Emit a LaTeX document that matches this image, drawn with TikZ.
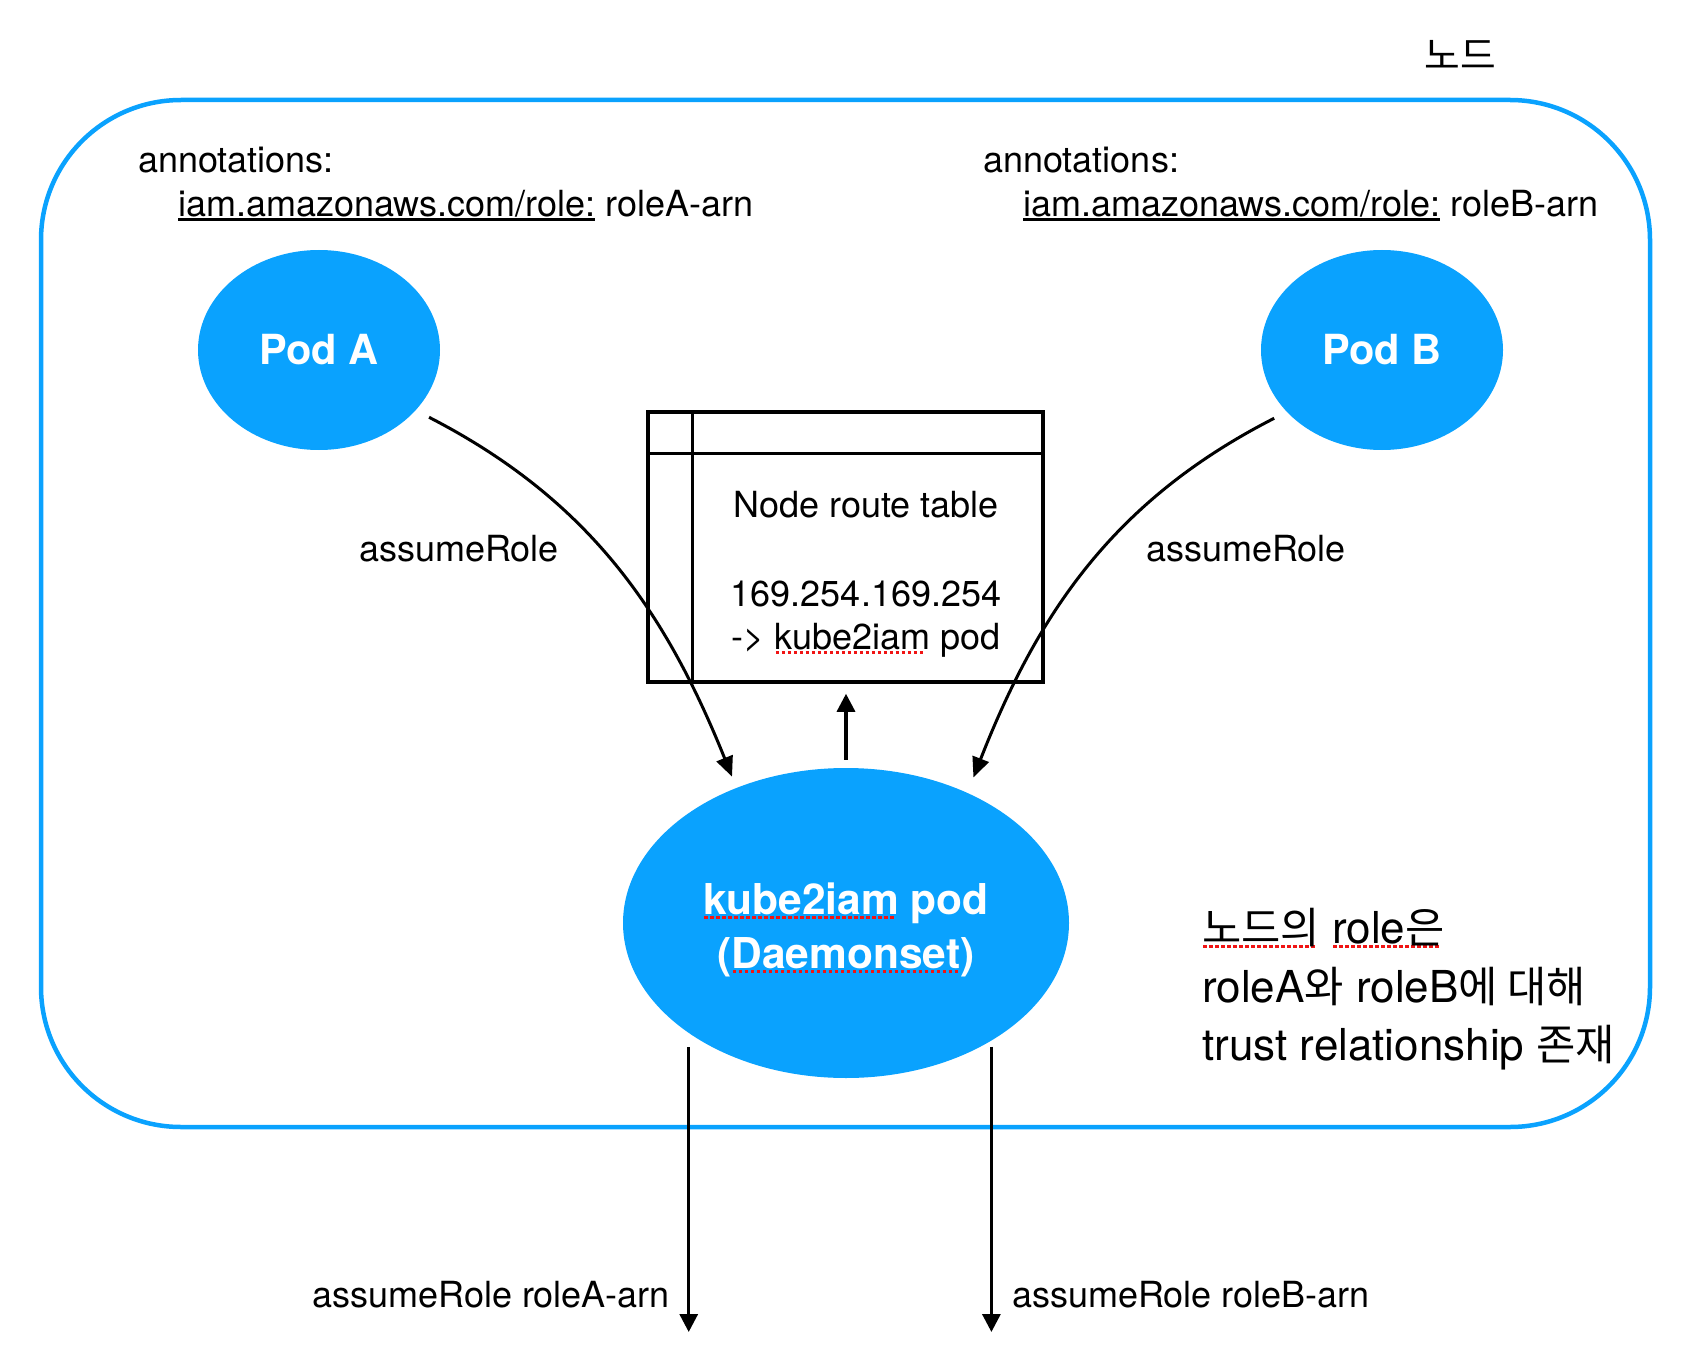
\documentclass[tikz,border=0pt]{standalone}
\usepackage{fontspec}
\setmainfont{TeX Gyre Heros}
\newfontfamily\kr{Noto Sans CJK KR}[Scale=0.97]
\usetikzlibrary{shapes.geometric,arrows.meta,calc}
\definecolor{podblue}{RGB}{10,162,254}
\definecolor{spellred}{RGB}{240,20,20}
\newsavebox\sqbox
\newcommand\squig[1]{\sbox\sqbox{#1}\makebox[0pt][l]{\color{spellred}\raisebox{-5pt}{\hbox to \wd\sqbox{\leaders\hbox to 6pt{\hss\vrule height 3pt depth 0pt width 3.5pt\hss}\hfill}}}\usebox\sqbox}
\newcommand\ulbox[1]{\sbox\sqbox{#1}\makebox[0pt][l]{\rule[-3.6pt]{\wd\sqbox}{2.2pt}}\usebox\sqbox}
\newcommand\K[1]{{\kr #1}}
\newcommand\fsz[2]{\fontsize{#1}{#2}\selectfont}
\begin{document}
\begin{tikzpicture}[x=1pt,y=-1pt,
  pod/.style={ellipse, fill=podblue, draw=none, text=white, inner sep=0pt, font=\fsz{41.5}{50}\bfseries},
  lbl/.style={inner sep=0pt, font=\fsz{36}{43}},
  big/.style={inner sep=0pt, font=\fsz{44}{52}},
  link/.style={line width=3pt, -{Triangle[length=20pt,width=17pt]}},
  vlink/.style={line width=3.2pt, -{Triangle[length=18pt,width=18pt]}}]
\useasboundingbox (0,0) rectangle (1690,1356);

% node boundary
\node[draw=podblue, line width=4.5pt, rounded corners=140pt, minimum width=1609pt,
      minimum height=1027pt, inner sep=0pt] (nodebox) at (845.5,613.5) {};
\node[inner sep=0pt, font=\fsz{40}{48}\kr, anchor=base] (nodelbl) at (1460,70) {노드};

% annotations
\node[lbl, anchor=base west] (annA) at (138,173) {annotations:};
\node[lbl, anchor=base west] (roleA) at (178,217) {\ulbox{iam.amazonaws.com/role:} roleA-arn};
\node[lbl, anchor=base west] (annB) at (983,173) {annotations:};
\node[lbl, anchor=base west] (roleB) at (1023,217) {\ulbox{iam.amazonaws.com/role:} roleB-arn};

% pods
\node[pod, minimum width=242pt, minimum height=200pt] (podA) at (319,350) {Pod A};
\node[pod, minimum width=242pt, minimum height=200pt] (podB) at (1382,350) {Pod B};

% route table
\node[draw, line width=3.5pt, minimum width=395pt, minimum height=270pt, inner sep=0pt] (rt) at (845.5,547) {};
\draw[line width=3.5pt] ($(rt.north west)+(46,0)$) -- ($(rt.south west)+(46,0)$);
\draw[line width=3.5pt] ($(rt.north west)+(0,43)$) -- ($(rt.north east)+(0,43)$);
\node[lbl, anchor=base] (rt1) at (866,517) {Node route table};
\node[lbl, anchor=base] (rt2) at (866,606) {169.254.169.254};
\node[lbl, anchor=base] (rt3) at (866,649) {-> \squig{kube2iam} pod};

% kube2iam
\node[pod, minimum width=446pt, minimum height=310pt, align=center, font=\fsz{42.5}{54}\bfseries] (k2i) at (846,923)
  {\rule{0pt}{44.5pt}\squig{kube2iam} pod\\(\squig{Daemonset})};

% right note
\node[big, anchor=base west] (r1) at (1202,943) {\squig{\K{노드의}} \squig{role\K{은}}};
\node[big, anchor=base west] (r2) at (1202,1002) {roleA\K{와} roleB\K{에 대해}};
\node[big, anchor=base west] (r3) at (1202,1060) {trust relationship \K{존재}};

% labels
\node[lbl, anchor=base] (lA) at (459,561) {assumeRole};
\node[lbl, anchor=base] (lB) at (1246,561) {assumeRole};
\coordinate (outA) at (689,1332);
\coordinate (outB) at (991,1332);
\node[lbl, anchor=base east] (bA) at (670,1307) {assumeRole roleA-arn};
\node[lbl, anchor=base west] (bB) at (1012,1307) {assumeRole roleB-arn};

% connectors
\draw[link, shorten <=15pt, shorten >=12pt] (podA.-32.6) .. controls (588,499) and (665,610) .. (k2i.129);
\draw[link, shorten <=14pt, shorten >=16.5pt] (podB.213.6) .. controls (1116,499) and (1039,610) .. (k2i.47.6);
\draw[vlink, shorten <=8pt, shorten >=10pt] (k2i.north) -- (k2i.north |- rt.south);
\draw[vlink, shorten <=14pt] (k2i.215) -- (k2i.215 |- outA);
\draw[vlink, shorten <=6pt] (k2i.-39.1) -- (k2i.-39.1 |- outB);
\end{tikzpicture}
\end{document}
